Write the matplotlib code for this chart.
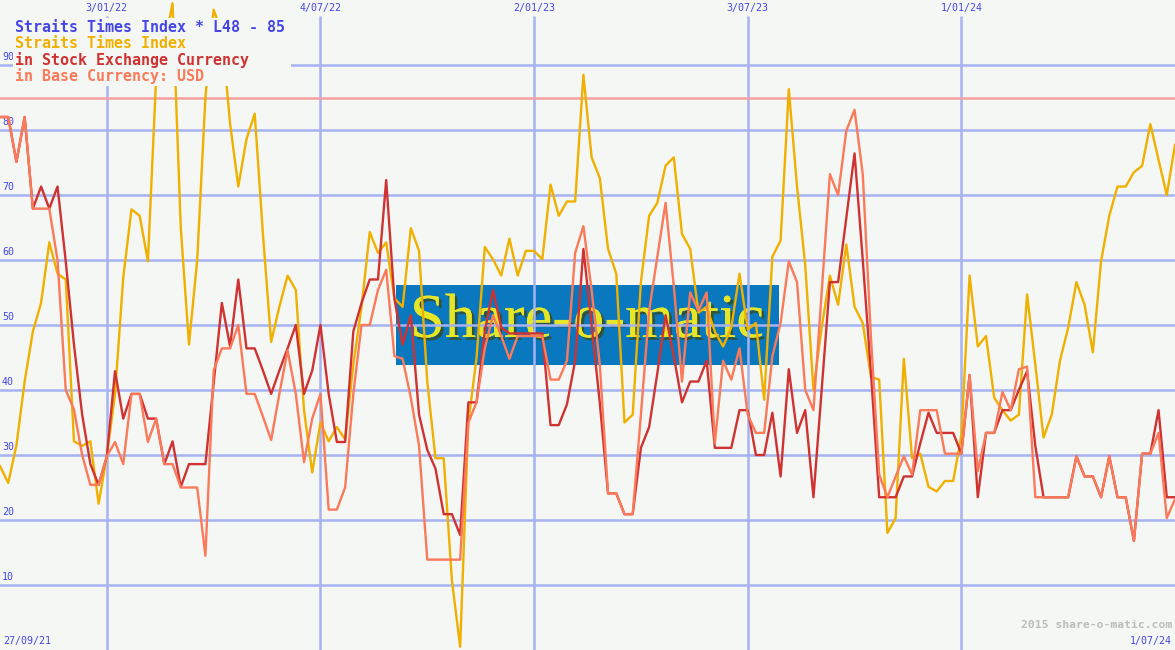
import matplotlib.pyplot as plt
import matplotlib.patheffects as pe
from matplotlib.patches import Rectangle
import pandas as pd

# weekly points, 4 Oct 2021 .. 1 Jul 2024
weeks = pd.date_range('2021-10-04', periods=144, freq='7D')

sti = [28.3, 25.7, 31.5, 41.3, 49, 53.4, 62.7, 57.9, 57, 32.1,
       31.4, 32.1, 22.5, 29.8, 39.4, 57.3, 67.8, 66.8, 59.8, 88,
       93, 99.5, 65, 47, 60, 85, 98.5, 95, 81, 71.3,
       78.6, 82.5, 64, 47.4, 52.8, 57.6, 55.4, 36.9, 27.3, 35,
       32.1, 34.3, 32.4, 43.9, 52.8, 64.3, 61.1, 62.7, 54.1, 52.8,
       64.9, 61.4, 41.3, 29.5, 29.5, 10.7, 0.5, 35, 45, 62,
       60.1, 57.6, 63.3, 57.6, 61.4, 61.4, 60.1, 71.6, 66.8, 69,
       69, 88.5, 75.8, 72.6, 61.7, 57.9, 35, 36.2, 56.6, 66.8,
       68.8, 74.5, 75.8, 64, 61.7, 51.9, 52.8, 49, 46.7, 49.6,
       57.9, 49.3, 50.3, 38.5, 60.5, 63, 86.3, 71.3, 59.2, 40,
       49.6, 57.6, 53.1, 62.4, 52.8, 50.3, 42, 41.6, 18, 20.3,
       44.8, 29.5, 30.2, 25.1, 24.4, 26, 26, 33, 57.6, 46.7,
       48.3, 38.8, 36.9, 35.3, 36.2, 54.7, 43.9, 32.7, 36.2, 44.5,
       49.6, 56.6, 53.1, 45.8, 59.8, 66.8, 71.3, 71.3, 73.5, 74.5,
       80.9, 75.4, 70, 77.7]

sgd = [82, 82, 75.1, 82, 67.9, 71.3, 67.9, 71.3, 59.8, 47,
       36.2, 28.6, 25.4, 29.8, 42.9, 35.6, 39.4, 39.4, 35.6, 35.6,
       28.6, 32.1, 25.1, 28.6, 28.6, 28.6, 41, 53.4, 46.7, 57,
       46.4, 46.4, 43, 39.4, 43, 46.4, 50, 39.4, 43, 50,
       39.4, 32, 32, 49, 53.4, 57, 57, 72.3, 54, 47,
       51.5, 36.2, 30.8, 27.9, 20.9, 20.9, 17.7, 38.1, 38.1, 49,
       55.4, 49.6, 48.7, 48.7, 48.7, 48.7, 48.7, 34.6, 34.6, 37.8,
       44.5, 61.7, 50, 38, 24.1, 24.1, 20.9, 20.9, 31.1, 34.3,
       42.6, 51.5, 45.2, 38.1, 41.3, 41.3, 44.5, 31.1, 31.1, 31.1,
       36.9, 36.9, 30, 30, 36.5, 26.7, 43.2, 33.4, 36.9, 23.5,
       40, 56.6, 56.6, 66.5, 76.4, 60, 42.6, 23.5, 23.5, 23.5,
       26.7, 26.7, 31.8, 36.5, 33.4, 33.4, 33.4, 30.2, 42.3, 23.5,
       33.4, 33.4, 36.9, 36.9, 40, 42.9, 31.4, 23.5, 23.5, 23.5,
       23.5, 29.8, 26.7, 26.7, 23.5, 29.8, 23.5, 23.5, 16.8, 30.2,
       30.2, 36.9, 23.5, 23.5]

usd = [82, 82, 75.1, 82, 67.9, 67.9, 67.9, 60, 40, 37,
       30, 25.4, 25.4, 29.8, 32, 28.6, 39.4, 39.4, 32, 35.6,
       28.6, 28.6, 25, 25, 25, 14.5, 43, 46.4, 46.4, 50,
       39.4, 39.4, 35.9, 32.3, 39.4, 46.1, 39.4, 28.9, 35.6, 39.4,
       21.6, 21.6, 25, 39.4, 50, 50, 55.4, 58.5, 45.2, 44.8,
       38.8, 31.4, 13.9, 13.9, 13.9, 13.9, 13.9, 35, 38.1, 46.4,
       51.5, 48.3, 44.8, 48.3, 48.3, 48.3, 48.3, 41.6, 41.6, 44.5,
       61.1, 65.2, 55.4, 43.9, 24.1, 24.1, 20.9, 20.9, 36.2, 52.2,
       60.5, 68.8, 56, 41.3, 55, 52.2, 55, 31.8, 44.5, 41.6,
       46.4, 36.2, 33.4, 33.4, 45.2, 50.3, 59.8, 56.6, 40, 36.9,
       55, 73.2, 70, 79.9, 83.1, 73.2, 48, 27, 23.5, 26.7,
       29.8, 27, 36.9, 36.9, 36.9, 30.2, 30.2, 30.2, 42.3, 27.5,
       33.4, 33.4, 39.7, 36.9, 43.2, 43.6, 23.5, 23.5, 23.5, 23.5,
       23.5, 29.8, 26.7, 26.7, 23.5, 29.8, 23.5, 23.5, 16.8, 30.2,
       30.2, 33.4, 20.3, 23.2]

level = 85
y_ticks = [10, 20, 30, 40, 50, 60, 70, 80, 90]
date_lines = pd.to_datetime(['2022-01-03', '2022-07-04', '2023-01-02',
                             '2023-07-03', '2024-01-01'])
date_labels = ['3/01/22', '4/07/22', '2/01/23', '3/07/23', '1/01/24']
legend_lines = [('Straits Times Index * L48 - 85', '#4646e6'),
                ('Straits Times Index', '#f0b000'),
                ('in Stock Exchange Currency', '#d03232'),
                ('in Base Currency: USD', '#fa7a5a')]

W, H = 1175, 650
bg = '#f4f7f4'
grid_c = '#a6b2f2'
mono = ['DejaVu Sans Mono']


def px(x, y):
    return x / W, 1 - y / H


fig = plt.figure(figsize=(W / 100, H / 100), dpi=100, facecolor=bg)
ax = fig.add_axes([0, 0, 1, 1])
ax.set_facecolor(bg)
ax.set_xlim(pd.Timestamp('2021-10-04'), pd.Timestamp('2024-07-01'))
ax.set_ylim(0, 100)
ax.axis('off')

# watermark box
ax.add_patch(Rectangle(px(396, 365), 383 / W, 80 / H, transform=ax.transAxes,
                       facecolor='#0a78be', edgecolor='none', zorder=0.5))
ax.text(*px(587, 322), 'Share-o-matic', transform=ax.transAxes,
        ha='center', va='center', fontsize=45, family='Liberation Serif',
        color='#e6e628', zorder=0.6,
        path_effects=[pe.withSimplePatchShadow(offset=(2, -2), shadow_rgbFace='#3a4a20', alpha=0.8),
                      pe.Normal()])

# grid
for v in y_ticks:
    ax.axhline(v, color=grid_c, lw=1.8, zorder=1)
    ax.text(*px(2, 650 - v * 6.5 - 3), str(v), transform=ax.transAxes,
            ha='left', va='bottom', fontsize=7.2, family=mono, color='#4646e6', zorder=1.5)
ax.vlines(date_lines, 0, 97.5, color=grid_c, lw=1.8, zorder=1)
for d, lab in zip(date_lines, date_labels):
    ax.text(d, 98.7, lab, ha='center', va='center', fontsize=7.2,
            family=mono, color='#4646e6', zorder=1.5)

ax.axhline(level, color='#f4a0a0', lw=1.8, zorder=1.2)

ax.plot(weeks, sti, color='#f0b000', lw=1.7, zorder=3)
ax.plot(weeks, sgd, color='#d03232', lw=1.7, zorder=3.1)
ax.plot(weeks, usd, color='#fa7a5a', lw=1.7, zorder=3.2)

# legend block
ax.add_patch(Rectangle(px(13, 86), 278 / W, 68 / H, transform=ax.transAxes,
                       facecolor=bg, edgecolor='none', zorder=5))
for i, (txt, c) in enumerate(legend_lines):
    ax.text(*px(15, 28 + 16 * i), txt, transform=ax.transAxes, ha='left',
            va='center', fontsize=10.8, family=mono, weight='bold', color=c, zorder=6)

ax.text(*px(3, 641), '27/09/21', transform=ax.transAxes, ha='left', va='center',
        fontsize=7.2, family=mono, color='#4646e6')
ax.text(*px(1172, 641), '1/07/24', transform=ax.transAxes, ha='right', va='center',
        fontsize=7.2, family=mono, color='#4646e6')
ax.text(*px(1172, 625), '2015 share-o-matic.com', transform=ax.transAxes,
        ha='right', va='center', fontsize=8.2, family=mono, weight='bold',
        color='#bcbcbc')

plt.savefig('out.png', dpi=100, facecolor=bg)
